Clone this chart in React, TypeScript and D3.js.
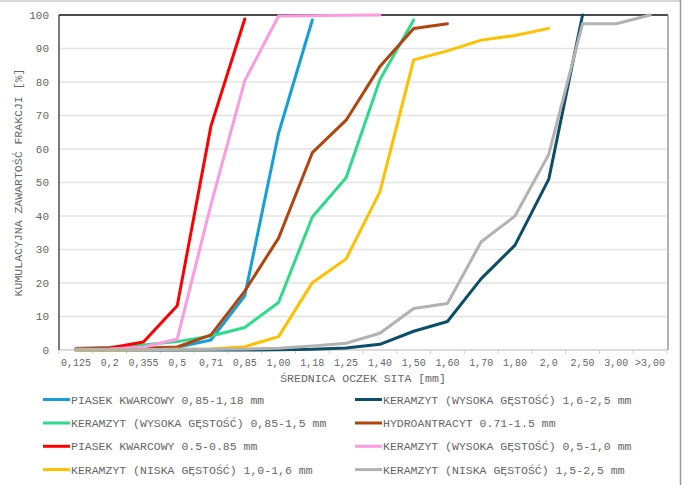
import React from "react";
import * as d3 from "d3";

// Sieve sizes (category axis)
const sieves = ["0,125", "0,2", "0,355", "0,5", "0,71", "0,85", "1,00", "1,18", "1,25", "1,40", "1,50", "1,60", "1,70", "1,80", "2,0", "2,50", "3,00", ">3,00"];
const yTicks = [0, 10, 20, 30, 40, 50, 60, 70, 80, 90, 100];

// Cumulative passing [%] per sieve, one array per material (null = no value)
const piasek085_118 = [0.2, 0.3, 0.4, 0.8, 3.0, 16.2, 64.7, 98.5];
const keramzytW16_25 = [0, 0, 0, 0, 0, 0, 0.1, 0.2, 0.6, 1.7, 5.6, 8.5, 21.3, 31.3, 51.0, 100];
const keramzytW085_15 = [0.5, 0.8, 1.5, 2.5, 4.2, 6.7, 14.2, 39.7, 51.4, 80.7, 98.5];
const hydroantracyt = [0.2, 0.3, 0.5, 0.9, 4.5, 17.6, 33.4, 58.9, 68.6, 84.6, 96.0, 97.4];
const piasek05_085 = [0.3, 0.6, 2.4, 13.2, 66.9, 98.8];
const keramzytW05_10 = [0.2, 0.3, 0.8, 3.3, 43.5, 80.4, 99.7, 99.8, 99.9, 100];
const keramzytN10_16 = [0, 0, 0.1, 0.2, 0.3, 1.0, 4.0, 20.1, 27.2, 47.2, 86.6, 89.3, 92.5, 93.9, 96.0];
const keramzytN15_25 = [0.1, 0.1, 0.1, 0.2, 0.2, 0.3, 0.5, 1.2, 2.0, 5.0, 12.4, 13.9, 32.3, 40.0, 58.4, 97.4, 97.4, 100];

const seriesNames = [
  "PIASEK KWARCOWY 0,85-1,18 mm",
  "KERAMZYT (WYSOKA GĘSTOŚĆ) 1,6-2,5 mm",
  "KERAMZYT (WYSOKA GĘSTOŚĆ) 0,85-1,5 mm",
  "HYDROANTRACYT 0.71-1.5 mm",
  "PIASEK KWARCOWY 0.5-0.85 mm",
  "KERAMZYT (WYSOKA GĘSTOŚĆ) 0,5-1,0 mm",
  "KERAMZYT (NISKA GĘSTOŚĆ) 1,0-1,6 mm",
  "KERAMZYT (NISKA GĘSTOŚĆ) 1,5-2,5 mm",
];
const seriesColors = ["#149fd9", "#0c4e68", "#2fdb8b", "#b2450d", "#ff0000", "#fc9ce0", "#ffc000", "#b2b2b2"];
const seriesValues = [
  piasek085_118,
  keramzytW16_25,
  keramzytW085_15,
  hydroantracyt,
  piasek05_085,
  keramzytW05_10,
  keramzytN10_16,
  keramzytN15_25,
];

const W = 685;
const H = 485;
const M = { left: 59, right: 667, top: 15, bottom: 350 };
const FONT = "'Liberation Mono', 'DejaVu Sans Mono', monospace";
const TEXT = "#666666";

export default function App() {
  const x = d3.scaleBand<string>().domain(sieves).range([M.left, M.right]).padding(0);
  const y = d3.scaleLinear().domain([0, 100]).range([M.bottom, M.top]);
  const cx = (i: number) => (x(sieves[i]) as number) + x.bandwidth() / 2;

  const line = d3
    .line<number>()
    .x((_, i) => cx(i))
    .y((v) => y(v));

  const boundaries = sieves.map((s) => x(s) as number).concat([M.right]);

  // legend: two columns, row-major
  const legendRows = [399.5, 423, 446.3, 469.6];
  const legendCols = [43, 355];

  return (
    <svg
      width={W}
      height={H}
      style={{ position: "absolute", left: 0, top: 0, background: "#fff" }}
      fontFamily={FONT}
    >
      <rect x={0} y={0} width={W} height={H} fill="#fff" />
      {/* outer chart frame */}
      <line x1={0} x2={681} y1={1} y2={1} stroke="#d9d9d9" strokeWidth={2} />
      <line x1={680.5} x2={680.5} y1={0} y2={H} stroke="#9a9a9a" strokeWidth={1.5} />

      {/* gridlines */}
      {yTicks.slice(1, -1).map((t) => (
        <line key={t} x1={M.left} x2={M.right} y1={y(t)} y2={y(t)} stroke="#e3e3e3" strokeWidth={1.5} />
      ))}

      {/* plot frame */}
      <line x1={M.left} x2={M.right + 1} y1={M.top} y2={M.top} stroke="#111" strokeWidth={1.3} />
      <line x1={M.right + 1} x2={M.right + 1} y1={M.top} y2={M.bottom} stroke="#888" strokeWidth={1.3} />
      <line x1={M.left} x2={M.right} y1={M.bottom} y2={M.bottom} stroke="#d0d0d0" strokeWidth={1.5} />
      <line x1={M.left} x2={M.left} y1={M.top} y2={M.bottom} stroke="#333" strokeWidth={1.3} />

      {/* x tick marks between sieves */}
      {boundaries.map((b, i) => (
        <line key={i} x1={b} x2={b} y1={M.bottom} y2={M.bottom + 4} stroke="#d0d0d0" strokeWidth={1} />
      ))}

      {/* y tick labels */}
      {yTicks.map((t) => (
        <text key={t} x={49} y={y(t)} dy="0.35em" textAnchor="end" fontSize={11} fill={TEXT}>
          {t}
        </text>
      ))}

      {/* x tick labels */}
      {sieves.map((s, i) => (
        <text key={s} x={cx(i)} y={362} dy="0.35em" textAnchor="middle" fontSize={10} fill={TEXT}>
          {s}
        </text>
      ))}

      {/* axis titles */}
      <text x={(M.left + M.right) / 2} y={378} dy="0.35em" textAnchor="middle" fontSize={11.5} fill={TEXT}>
        ŚREDNICA OCZEK SITA [mm]
      </text>
      <text
        transform={`translate(18,${(M.top + M.bottom) / 2}) rotate(-90)`}
        dy="0.35em"
        textAnchor="middle"
        fontSize={11.5}
        fill={TEXT}
      >
        KUMULACYJNA ZAWARTOŚĆ FRAKCJI [%]
      </text>

      {/* series lines */}
      {seriesValues.map((vals, k) => (
        <path
          key={k}
          d={line(vals) || ""}
          fill="none"
          stroke={seriesColors[k]}
          strokeWidth={3}
          strokeLinejoin="round"
          strokeLinecap="round"
        />
      ))}

      {/* legend */}
      {seriesNames.map((name, k) => {
        const lx = legendCols[k % 2];
        const ly = legendRows[Math.floor(k / 2)];
        return (
          <g key={name}>
            <line x1={lx} x2={lx + 27} y1={ly} y2={ly} stroke={seriesColors[k]} strokeWidth={3} />
            <text x={lx + 28} y={ly} dy="0.35em" fontSize={11.5} fill={TEXT}>
              {name}
            </text>
          </g>
        );
      })}
    </svg>
  );
}
